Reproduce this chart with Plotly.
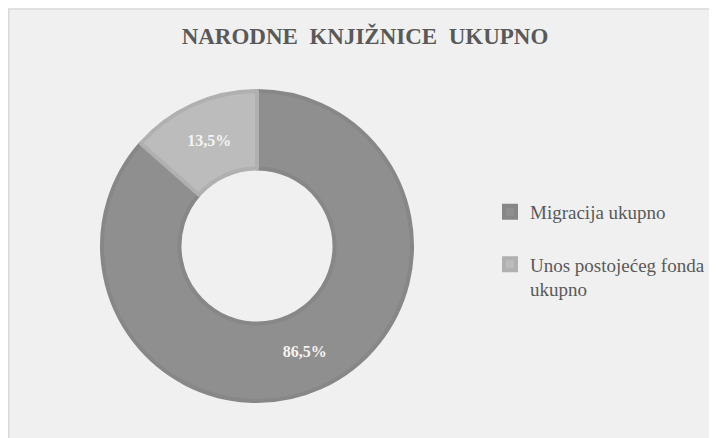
import plotly.graph_objects as go

# ── Data ──────────────────────────────────────────────────────────────────────
labels = ["Migracija ukupno", "Unos postojećeg fonda<br>ukupno"]
values = [86.5, 13.5]
slice_colors = ["#8f8f8f", "#bcbcbc"]
edge_colors = ["#878787", "#b0b0b0"]

TITLE = "NARODNE\u00a0\u00a0KNJIŽNICE\u00a0\u00a0UKUPNO"
SERIF = "Liberation Serif, Times New Roman, serif"

# page body has an 8px margin, so the figure sits at (8, 8) in the window
OFF = 8
W, H = 717 - OFF, 438 - OFF


def px(x):
    return (x - OFF) / W


def py(y):
    return 1 - (y - OFF) / H


pct_text = [f"{v:.1f}%".replace(".", ",") for v in values]
# extra blank line after each legend entry except the last (Excel-style spacing)
legend_names = [lab + "<br>\u00a0" for lab in labels[:-1]] + [labels[-1]]

cx, cy, r = 257, 246, 155   # donut centre / radius in window pixels

fig = go.Figure(go.Pie(
    labels=legend_names,
    values=values,
    text=pct_text,
    textinfo="text",
    textposition="inside",
    insidetextorientation="horizontal",
    textfont=dict(family=SERIF, size=16, color="#f4f4f4", weight="bold"),
    hole=0.5,
    sort=False,
    direction="clockwise",
    rotation=0,
    marker=dict(colors=slice_colors, line=dict(color=edge_colors, width=4)),
    domain=dict(x=[px(cx - r), px(cx + r)], y=[py(cy + r), py(cy - r)]),
    hoverinfo="skip",
))

fig.update_layout(
    width=W, height=H,
    margin=dict(l=0, r=0, t=0, b=0),
    paper_bgcolor="white",
    title=dict(
        text=TITLE,
        x=px(365), xanchor="center",
        y=py(36), yanchor="middle",
        font=dict(family=SERIF, size=23, color="#595959", weight="bold"),
    ),
    legend=dict(
        x=px(490), xanchor="left",
        y=py(193), yanchor="top",
        valign="top",
        font=dict(family=SERIF, size=19, color="#595959"),
        bgcolor="rgba(0,0,0,0)",
    ),
    shapes=[dict(
        type="rect", xref="paper", yref="paper", layer="below",
        x0=0.001, x1=1.05, y0=-0.05, y1=py(9),
        fillcolor="#f0f0f0", line=dict(color="#d9d9d9", width=1.5),
    )],
)

fig.write_html("out.html")
